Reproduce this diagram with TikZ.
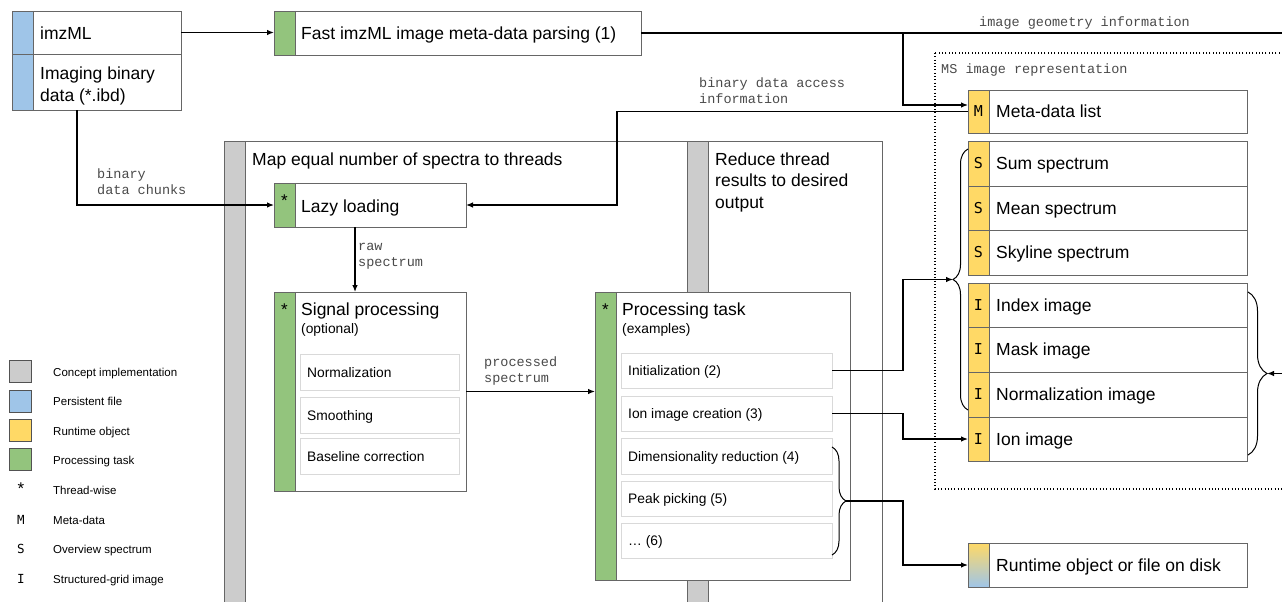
\documentclass[tikz,border=0pt]{standalone}
\usepackage{fontspec}
\setmainfont{Liberation Sans}
\newfontfamily\labelmono{Liberation Mono}
\newfontfamily\markmono{DejaVu Sans Mono}
\usetikzlibrary{arrows.meta,decorations.pathreplacing}
\definecolor{conceptgray}{HTML}{CCCCCC}
\definecolor{filebl}{HTML}{9FC5E8}
\definecolor{runtimeyl}{HTML}{FFD966}
\definecolor{taskgr}{HTML}{93C47D}
\definecolor{edgegray}{HTML}{666666}
\definecolor{subgray}{HTML}{D9D9D9}
\definecolor{labelgray}{HTML}{4A4A4A}
\newcommand\fbig{\fontsize{17.5}{21.5}\selectfont}
\newcommand\fmid{\fontsize{13.8}{17}\selectfont}
\newcommand\fleg{\fontsize{11.5}{14}\selectfont}
\newcommand\flab{\labelmono\fontsize{13.5}{16}\selectfont}
\newcommand\fmark{\markmono\fontsize{15}{18}\selectfont}
\newcommand\fsmallmark{\markmono\fontsize{12.5}{14}\selectfont}

\begin{document}
\begin{tikzpicture}[x=1pt, y=-1pt,
    box/.style={draw=edgegray, line width=0.8pt, fill=white, inner sep=0pt, outer sep=0pt, anchor=north west},
    subbox/.style={box, draw=subgray},
    stripe/.style={path picture={
        \fill[#1] (path picture bounding box.north west) rectangle ([xshift=21pt]path picture bounding box.south west);
        \draw[edgegray, line width=0.8pt] ([xshift=21pt]path picture bounding box.north west) -- ([xshift=21pt]path picture bounding box.south west);}},
    rtstripe/.style={path picture={
        \shade[top color=runtimeyl, bottom color=filebl] (path picture bounding box.north west) rectangle ([xshift=21pt]path picture bounding box.south west);
        \draw[edgegray, line width=0.8pt] ([xshift=21pt]path picture bounding box.north west) -- ([xshift=21pt]path picture bounding box.south west);}},
    txt/.style={inner sep=0pt, anchor=base west, font=\fbig, align=left},
    midtxt/.style={txt, font=\fmid},
    legtxt/.style={txt, font=\fleg},
    lab/.style={txt, font=\flab, text=labelgray},
    typemark/.style={inner sep=0pt, font=\fmark, text height=10.9pt, text depth=0pt},
    legmark/.style={inner sep=0pt, font=\fsmallmark, text height=9.1pt, text depth=0pt},
    threadstar/.style={inner sep=0pt, anchor=north, font=\fontsize{17}{20}\selectfont},
    ln/.style={line width=1.2pt},
    arr/.style={ln, -{Latex[length=7pt,width=5.5pt]}},
    grpbrace/.style={line width=1pt, decorate, decoration={brace, amplitude=#1}}
]
    \useasboundingbox (0,0) rectangle (1282,602);
    \clip (0,0) rectangle (1282,602);

    % Concept implementation boxes
    \node[box, stripe=conceptgray, minimum width=463pt, minimum height=480pt] (map) at (224,141) {};
    \node[box, stripe=conceptgray, minimum width=195pt, minimum height=480pt] (reduce) at (687,141) {};
    \node[txt] (maptxt) at ([xshift=28pt,yshift=-24pt]map.north west) {Map equal number of spectra to threads};
    % (base of a multi-line node = its last line)
    \node[txt] (reducetxt) at ([xshift=28pt,yshift=-67pt]reduce.north west) {Reduce thread\\results to desired\\output};

    % Persistent files
    \node[box, stripe=filebl, minimum width=169pt, minimum height=43pt] (imzml) at (12,11) {};
    \node[box, stripe=filebl, minimum width=169pt, minimum height=56pt] (ibd) at (12,54) {};
    \node[txt] (imzmltxt) at ([xshift=28pt,yshift=-7pt]imzml.west) {imzML};
    \node[txt] (ibdtxt) at ([xshift=28pt,yshift=-47pt]ibd.north west) {Imaging binary\\data (*.ibd)};

    % Processing tasks
    \node[box, stripe=taskgr, minimum width=367pt, minimum height=44pt] (parse) at (274,11) {};
    \node[txt] (parsetxt) at ([xshift=27pt,yshift=-6.5pt]parse.west) {Fast imzML image meta-data parsing (1)};

    \node[box, stripe=taskgr, minimum width=192pt, minimum height=44pt] (lazy) at (274,183) {};
    \node[threadstar] (lazystar) at ([xshift=10.5pt,yshift=-12pt]lazy.north west) {*};
    \node[txt] (lazytxt) at ([xshift=27pt,yshift=-7.5pt]lazy.west) {Lazy loading};

    \node[box, stripe=taskgr, minimum width=192pt, minimum height=199pt] (sig) at (274,292) {};
    \node[threadstar] (sigstar) at ([xshift=10.5pt,yshift=-12pt]sig.north west) {*};
    \node[txt] (sigtxt) at ([xshift=27pt,yshift=-23.3pt]sig.north west) {Signal processing};
    \node[midtxt] (sigopt) at ([xshift=27pt,yshift=-41.5pt]sig.north west) {(optional)};
    \node[subbox, minimum width=159pt, minimum height=36pt] (norm) at (300,354) {};
    \node[subbox, minimum width=159pt, minimum height=36pt] (smooth) at (300,397) {};
    \node[subbox, minimum width=159pt, minimum height=36pt] (basecorr) at (300,438) {};
    \node[midtxt] (normtxt) at ([xshift=7pt,yshift=-5pt]norm.west) {Normalization};
    \node[midtxt] (smoothtxt) at ([xshift=7pt,yshift=-5pt]smooth.west) {Smoothing};
    \node[midtxt] (basecorrtxt) at ([xshift=7pt,yshift=-5pt]basecorr.west) {Baseline correction};

    \node[box, stripe=taskgr, minimum width=255pt, minimum height=288pt] (task) at (595,292) {};
    \node[threadstar] (taskstar) at ([xshift=10.5pt,yshift=-12pt]task.north west) {*};
    \node[txt] (tasktxt) at ([xshift=27pt,yshift=-23.3pt]task.north west) {Processing task};
    \node[midtxt] (taskex) at ([xshift=27pt,yshift=-41.5pt]task.north west) {(examples)};
    \node[subbox, minimum width=211pt, minimum height=35pt] (init) at (621,353) {};
    \node[subbox, minimum width=211pt, minimum height=35pt] (ioncr) at (621,396) {};
    \node[subbox, minimum width=211pt, minimum height=36pt] (dimred) at (621,438) {};
    \node[subbox, minimum width=211pt, minimum height=35pt] (peak) at (621,481) {};
    \node[subbox, minimum width=211pt, minimum height=35pt] (more) at (621,523) {};
    \node[midtxt] (inittxt) at ([xshift=7pt,yshift=-5pt]init.west) {Initialization (2)};
    \node[midtxt] (ioncrtxt) at ([xshift=7pt,yshift=-5pt]ioncr.west) {Ion image creation (3)};
    \node[midtxt] (dimredtxt) at ([xshift=7pt,yshift=-5pt]dimred.west) {Dimensionality reduction (4)};
    \node[midtxt] (peaktxt) at ([xshift=7pt,yshift=-5pt]peak.west) {Peak picking (5)};
    \node[midtxt] (moretxt) at ([xshift=7pt,yshift=-5pt]more.west) {… (6)};

    % MS image representation
    \draw[line width=1.2pt, dash pattern=on 1pt off 2.3pt] (935,53) rectangle (1295,489);
    \node[lab] (mslab) at (941,74) {MS image representation};

    \node[box, stripe=runtimeyl, minimum width=279pt, minimum height=43pt] (meta) at (968,90) {};
    \node[box, stripe=runtimeyl, minimum width=279pt, minimum height=45pt] (sum) at (968,141) {};
    \node[box, stripe=runtimeyl, minimum width=279pt, minimum height=44pt] (mean) at (968,186) {};
    \node[box, stripe=runtimeyl, minimum width=279pt, minimum height=45pt] (sky) at (968,230) {};
    \node[box, stripe=runtimeyl, minimum width=279pt, minimum height=44pt] (idx) at (968,283) {};
    \node[box, stripe=runtimeyl, minimum width=279pt, minimum height=45pt] (mask) at (968,327) {};
    \node[box, stripe=runtimeyl, minimum width=279pt, minimum height=45pt] (normimg) at (968,372) {};
    \node[box, stripe=runtimeyl, minimum width=279pt, minimum height=44pt] (ionimg) at (968,417) {};
    \node[box, rtstripe, minimum width=279pt, minimum height=44pt] (rt) at (968,543) {};

    \node[typemark] (metam) at ([xshift=10.5pt]meta.west) {M};
    \node[typemark] (summ) at ([xshift=10.5pt]sum.west) {S};
    \node[typemark] (meanm) at ([xshift=10.5pt]mean.west) {S};
    \node[typemark] (skym) at ([xshift=10.5pt]sky.west) {S};
    \node[typemark] (idxm) at ([xshift=10.5pt]idx.west) {I};
    \node[typemark] (maskm) at ([xshift=10.5pt]mask.west) {I};
    \node[typemark] (normimgm) at ([xshift=10.5pt]normimg.west) {I};
    \node[typemark] (ionimgm) at ([xshift=10.5pt]ionimg.west) {I};

    \node[txt] (metatxt) at ([xshift=28pt,yshift=-6.25pt]meta.west) {Meta-data list};
    \node[txt] (sumtxt) at ([xshift=28pt,yshift=-6.25pt]sum.west) {Sum spectrum};
    \node[txt] (meantxt) at ([xshift=28pt,yshift=-6.25pt]mean.west) {Mean spectrum};
    \node[txt] (skytxt) at ([xshift=28pt,yshift=-6.25pt]sky.west) {Skyline spectrum};
    \node[txt] (idxtxt) at ([xshift=28pt,yshift=-6.25pt]idx.west) {Index image};
    \node[txt] (masktxt) at ([xshift=28pt,yshift=-6.25pt]mask.west) {Mask image};
    \node[txt] (normimgtxt) at ([xshift=28pt,yshift=-6.25pt]normimg.west) {Normalization image};
    \node[txt] (ionimgtxt) at ([xshift=28pt,yshift=-6.25pt]ionimg.west) {Ion image};
    \node[txt] (rttxt) at ([xshift=28pt,yshift=-6.25pt]rt.west) {Runtime object or file on disk};

    % Braces
    \draw[grpbrace=15pt] (968,410) -- (968,149);
    \draw[grpbrace=19pt] (1248,292) -- (1248,455);
    \draw[grpbrace=14pt] (832,447) -- (832,555);
    \coordinate (sumtip) at (953,279.5);
    \coordinate (imgtip) at (1267,373.5);
    \coordinate (dimtip) at (846,501);

    % Connectors
    \coordinate (geo) at (903,33);
    \coordinate (geoend) at (1295,33);
    \draw[arr] (imzml.east) -- (imzml.east -| parse.west);
    \draw[ln] (parse.east) -- (geoend);
    \draw[arr] (geo) |- ([yshift=6.5pt]meta.west);
    \draw[arr] (meta.west) -| ([xshift=151pt]lazy.east) -- (lazy.east);
    \draw[arr] ([xshift=65pt]ibd.south west) |- (lazy.west);
    \draw[arr] ([xshift=81pt]lazy.south west) -- ([xshift=81pt]sig.north west);
    \draw[arr] (sig.east) -- (sig.east -| task.west);
    \draw[arr] (init.east) -- ++(71,0) |- (sumtip);
    \draw[arr] (ioncr.east) -- ++(71,0) |- (ionimg.west);
    \draw[arr] (dimtip) -- ++(57,0) |- (rt.west);
    \draw[arr] ([xshift=20pt]imgtip) -- (imgtip);

    % Connector labels
    \node[lab] (geolab) at (979,26.5) {image geometry information};
    \node[lab] (acclab) at (699,103.5) {binary data access\\information};
    \node[lab] (chunklab) at (97,194.5) {binary\\data chunks};
    \node[lab] (rawlab) at (358,266.5) {raw\\spectrum};
    \node[lab] (proclab) at (484,382.5) {processed\\spectrum};

    % Legend
    \node[box, anchor=center, draw=edgegray!80!black, fill=conceptgray, minimum width=22pt, minimum height=22pt] (legconcept) at (20.5,371.5) {};
    \node[box, anchor=center, draw=edgegray!80!black, fill=filebl, minimum width=22pt, minimum height=22pt] (legfile) at (20.5,401) {};
    \node[box, anchor=center, draw=edgegray!80!black, fill=runtimeyl, minimum width=22pt, minimum height=22pt] (legruntime) at (20.5,430.5) {};
    \node[box, anchor=center, draw=edgegray!80!black, fill=taskgr, minimum width=22pt, minimum height=22pt] (legtask) at (20.5,459.5) {};
    \node[threadstar] (legstar) at (21,483) {*};
    \node[legmark] (legm) at (21,519.5) {M};
    \node[legmark] (legs) at (21,549) {S};
    \node[legmark] (legi) at (21,578.5) {I};
    \node[legtxt] (legconcepttxt) at (53,376) {Concept implementation};
    \node[legtxt] (legfiletxt) at (53,405) {Persistent file};
    \node[legtxt] (legruntimetxt) at (53,435) {Runtime object};
    \node[legtxt] (legtasktxt) at (53,464) {Processing task};
    \node[legtxt] (legstartxt) at (53,494) {Thread-wise};
    \node[legtxt] (legmtxt) at (53,524) {Meta-data};
    \node[legtxt] (legstxt) at (53,553.5) {Overview spectrum};
    \node[legtxt] (legitxt) at (53,583) {Structured-grid image};
\end{tikzpicture}
\end{document}
